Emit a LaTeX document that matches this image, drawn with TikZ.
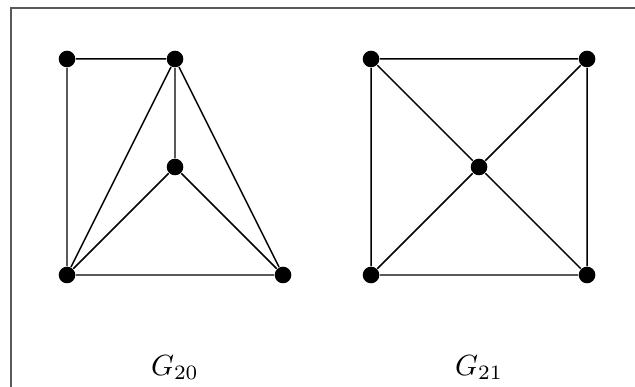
\documentclass[tikz,border=0pt]{standalone}
\usepackage{tikz}
\usetikzlibrary{positioning}
\tikzset{
  vtx/.style   ={circle, fill=black, inner sep=0pt, minimum size=2mm},
  edge/.style  ={draw, line width=0.5pt},
  glabel/.style={anchor=base, font=\normalsize},
  frame/.style ={draw=black!65, line width=0.7pt},
}
\begin{document}
\begin{tikzpicture}[x=1.3cm, y=1.3cm]
  \useasboundingbox (-0.6204,-1.037) rectangle (5.259,2.546);
  \draw[frame] (-0.5185,-1.1) -- (-0.5185,2.472) -- (5.4,2.472);

  % G_20
  \node[vtx] (a1) at (0,2) {};
  \node[vtx] (a2) at (1,2) {};
  \node[vtx] (a3) at (1,1) {};
  \node[vtx] (a4) at (0,0) {};
  \node[vtx] (a5) at (2,0) {};
  \path[edge] (a1) -- (a2) (a1) -- (a4) (a2) -- (a3) (a2) -- (a4) (a2) -- (a5)
              (a3) -- (a4) (a3) -- (a5) (a4) -- (a5);
  \node[glabel] (l20) at (1,-0.926) {$G_{20}$};

  % G_21
  \node[vtx] (b1) at (2.815,2) {};
  \node[vtx] (b2) at (4.815,2) {};
  \node[vtx] (b3) at (3.815,1) {};
  \node[vtx] (b4) at (2.815,0) {};
  \node[vtx] (b5) at (4.815,0) {};
  \path[edge] (b1) -- (b2) (b2) -- (b5) (b5) -- (b4) (b4) -- (b1)
              (b1) -- (b3) (b3) -- (b5) (b2) -- (b3) (b3) -- (b4);
  \node[glabel] (l21) at (3.815,-0.926) {$G_{21}$};
\end{tikzpicture}
\end{document}
